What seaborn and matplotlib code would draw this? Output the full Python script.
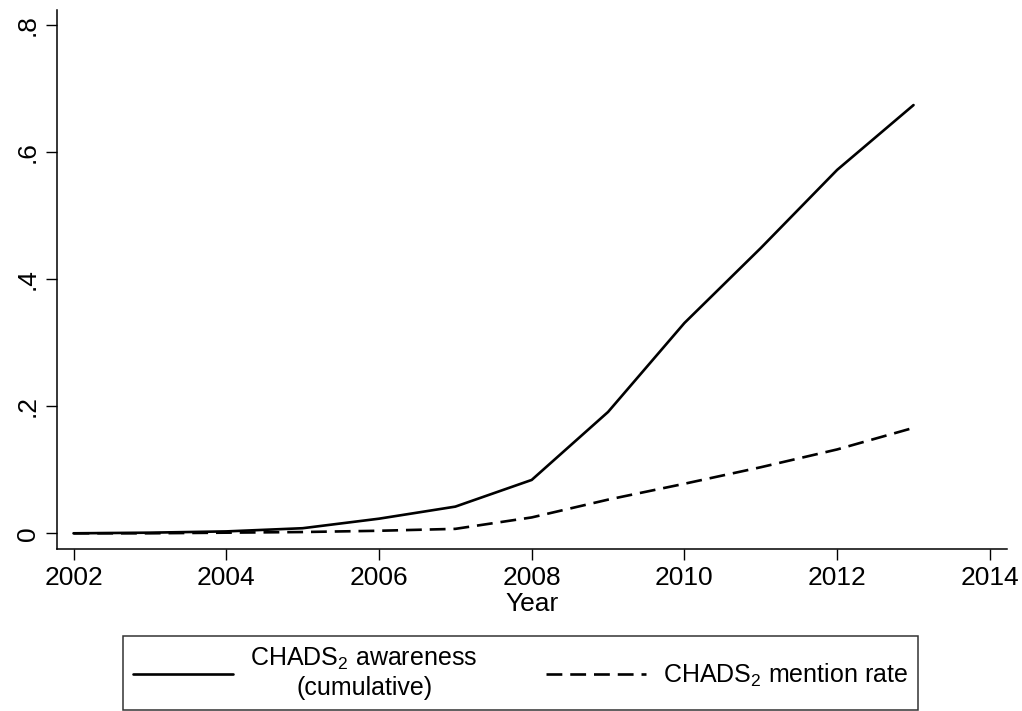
import numpy as np
import pandas as pd
import matplotlib
matplotlib.use("Agg")
import matplotlib.pyplot as plt
import seaborn as sns

years = [2002, 2003, 2004, 2005, 2006, 2007, 2008, 2009, 2010, 2011, 2012, 2013]
awareness = [0.000, 0.001, 0.003, 0.008, 0.023, 0.042, 0.084, 0.191, 0.331, 0.449, 0.572, 0.674]
mention = [0.000, 0.000, 0.001, 0.002, 0.004, 0.007, 0.025, 0.053, 0.078, 0.104, 0.132, 0.166]

x_ticks = [2002, 2004, 2006, 2008, 2010, 2012, 2014]
y_ticks = [0.0, 0.2, 0.4, 0.6, 0.8]
y_tick_labels = ["0", ".2", ".4", ".6", ".8"]

label_aware = "CHADS$_2$ awareness\n(cumulative)"
label_mention = "CHADS$_2$ mention rate"

sns.set_style("ticks")
plt.rcParams["font.family"] = ["Liberation Sans", "DejaVu Sans"]
for key in ("text.color", "axes.labelcolor", "xtick.color", "ytick.color"):
    plt.rcParams[key] = "black"
plt.rcParams["mathtext.fontset"] = "custom"
plt.rcParams["mathtext.rm"] = "Liberation Sans"
plt.rcParams["mathtext.it"] = "Liberation Sans:italic"
plt.rcParams["mathtext.bf"] = "Liberation Sans:bold"

df = pd.DataFrame({"Year": years, "aware": awareness, "mention": mention})

fig = plt.figure(figsize=(10.22, 7.11), dpi=100)
ax = fig.add_axes([56.7 / 1022, 1 - 549 / 711, 950 / 1022, (549 - 10) / 711])

sns.lineplot(data=df, x="Year", y="aware", ax=ax, color="black", lw=1.9,
             label=label_aware)
sns.lineplot(data=df, x="Year", y="mention", ax=ax, color="black", lw=1.9,
             linestyle=(0, (6, 3)), label=label_mention)

ax.set_xlim(2001.78, 2014.22)
ax.set_ylim(-0.0247, 0.8236)
ax.set_xticks(x_ticks)
ax.set_xticklabels([str(v) for v in x_ticks], fontsize=19)
ax.set_yticks(y_ticks)
ax.set_yticklabels(y_tick_labels, fontsize=19, rotation=90, va="center")
ax.tick_params(axis="both", length=8, width=1.0, color="black", pad=4)
ax.set_xlabel("Year", fontsize=19, labelpad=2)
ax.set_ylabel("")

sns.despine(ax=ax)
for s in ("left", "bottom"):
    ax.spines[s].set_linewidth(1.1)
    ax.spines[s].set_color("black")

handles, labels = ax.get_legend_handles_labels()
ax.get_legend().remove()
leg = fig.legend(handles, labels, ncol=2, loc="lower left",
                 bbox_to_anchor=(123 / 1022, 1 / 711, (918 - 123) / 1022, 72 / 711),
                 mode="expand", fontsize=18,
                 frameon=True, fancybox=False,
                 edgecolor="black", handlelength=4.0, handletextpad=0.7,
                 columnspacing=2.0, borderpad=0.4, borderaxespad=0)
leg.get_frame().set_linewidth(1.1)
for t in leg.get_texts():
    t.set_multialignment("center")

fig.savefig("out.png", dpi=100, facecolor="white")
